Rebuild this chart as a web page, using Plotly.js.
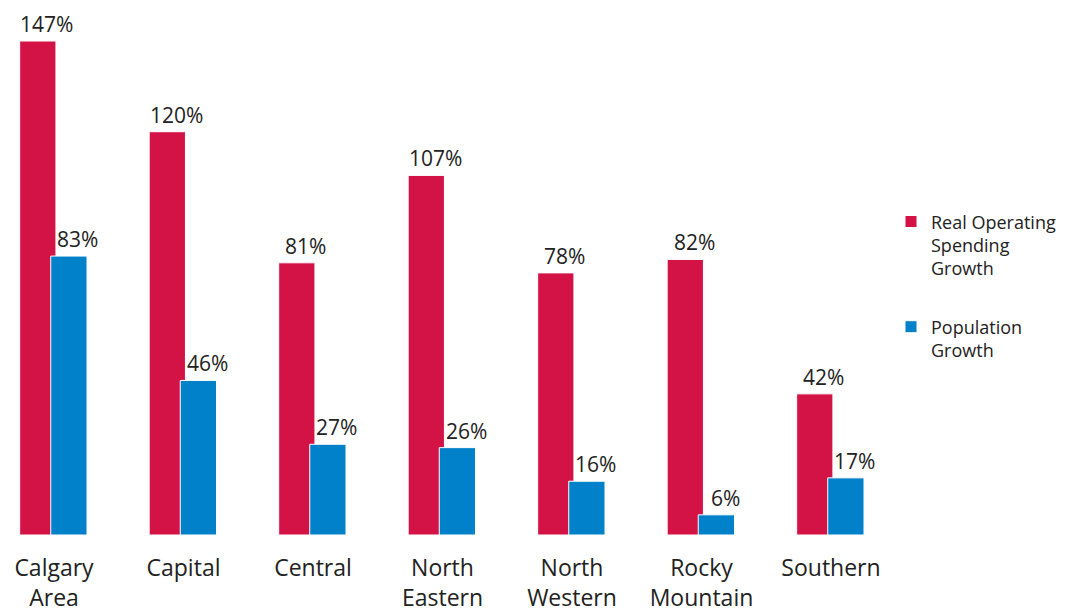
<!DOCTYPE html>
<html><head><meta charset="utf-8">
<script src="https://cdn.plot.ly/plotly-3.0.1.min.js"></script>
<style>html,body{margin:0;padding:0;background:#fff;}</style>
</head><body>
<div id="chart" style="width:1071px;height:612px;"></div>
<script>
const categories = ["Calgary<br>Area", "Capital", "Central", "North<br>Eastern", "North<br>Western", "Rocky<br>Mountain", "Southern"];
const spendingGrowth = [147, 120, 81, 107, 78, 82, 42];
const populationGrowth = [83, 46, 27, 26, 16, 6, 17];
const seriesNames = ["Real Operating<br>Spending<br>Growth", "Population<br>Growth"];
const idx = categories.map((c, i) => i);

const fontFam = "'Open Sans', 'Noto Sans', sans-serif";
const barWidth = 0.28;
const offsets = [-0.265, -0.025];
const seriesValues = [spendingGrowth, populationGrowth];
const colors = ['#D31245', '#0081C9'];

const traces = seriesValues.map((vals, s) => ({
  type: 'bar', name: seriesNames[s], x: idx, y: vals,
  width: barWidth, offset: offsets[s], legendgroup: 'g' + s,
  marker: {color: colors[s], line: {color: '#ffffff', width: 1}},
  hoverinfo: 'none'
}));

const annotations = [];
seriesValues.forEach((vals, s) => {
  vals.forEach((v, i) => {
    annotations.push({
      x: i + offsets[s] + barWidth / 2, y: v, xref: 'x', yref: 'y',
      text: v + '%', showarrow: false, xanchor: 'center', yanchor: 'bottom',
      xshift: 9, yshift: 1,
      font: {size: 21, color: '#222', family: fontFam}
    });
  });
});

const layout = {
  width: 1071, height: 612,
  margin: {l: 0, r: 171, t: 0, b: 77},
  barmode: 'overlay',
  paper_bgcolor: '#fff', plot_bgcolor: '#fff',
  font: {family: fontFam, color: '#222'},
  showlegend: true,
  annotations: annotations,
  legend: {
    x: 0.99, xanchor: 'left', y: 0.62, yanchor: 'top',
    font: {size: 18, color: '#222', family: fontFam},
    tracegroupgap: 32, itemwidth: 30, traceorder: 'grouped', valign: 'top'
  },
  xaxis: {
    range: [-0.417, 6.533],
    tickmode: 'array', tickvals: idx, ticktext: categories,
    showgrid: false, zeroline: false, showline: false, ticks: '',
    tickfont: {size: 23, color: '#222', family: fontFam},
    ticklabelstandoff: 17
  },
  yaxis: {
    range: [0, 159.2], visible: false, showgrid: false, zeroline: false
  }
};

Plotly.newPlot('chart', traces, layout, {displayModeBar: false, staticPlot: true});
</script>
</body></html>
